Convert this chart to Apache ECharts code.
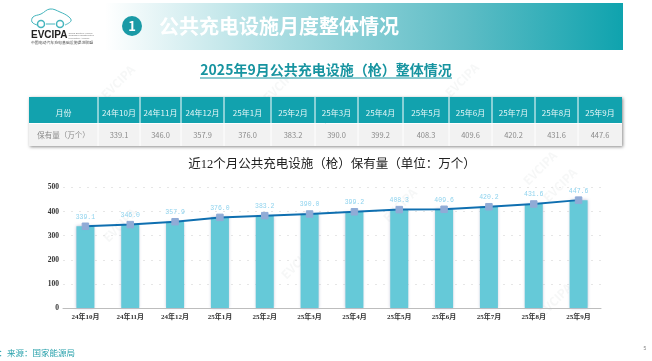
<!DOCTYPE html>
<html>
<head>
<meta charset="utf-8">
<style>
  html, body { margin: 0; padding: 0; background: #fff; }
  #chart { width: 652px; height: 361px; }
</style>
<script src="https://cdn.jsdelivr.net/npm/echarts@6/dist/echarts.min.js"></script>
</head>
<body>
<div id="chart"></div>
<script>
const months = ['24年10月', '24年11月', '24年12月', '25年1月', '25年2月', '25年3月', '25年4月', '25年5月', '25年6月', '25年7月', '25年8月', '25年9月']
const stock = [339.1, 346.0, 357.9, 376.0, 383.2, 390.0, 399.2, 408.3, 409.6, 420.2, 431.6, 447.6]
const yTicks = { min: 0, max: 500, interval: 100 }
const headerLabel = '月份'
const rowLabel = '保有量（万个）'

// table column edges, px
const colEdges = [29, 98, 140, 181, 224, 271, 315, 358, 403, 449, 492, 535, 578, 622]
const watermarks = [[118, 82], [280, 85], [462, 80], [540, 168], [120, 225], [298, 262], [400, 205], [560, 185], [555, 300]]

const sans = '"Noto Sans CJK SC", sans-serif'
const teal = '#12a2ae'

const chart = echarts.init(document.getElementById('chart'))

const graphics = []

function text(x, y, str, font, fill, extra) {
  graphics.push({
    type: 'text', x, y, silent: true,
    style: Object.assign({ text: str, font, fill, align: 'center', verticalAlign: 'middle' }, extra || {})
  })
}

// faint watermarks, underneath everything
watermarks.forEach(([x, y]) => {
  graphics.push({
    type: 'text', x, y, rotation: Math.PI / 4, z: 0, silent: true,
    style: { text: 'EVCIPA', font: 'bold 12px ' + sans, fill: 'rgba(150,165,170,0.09)', align: 'center', verticalAlign: 'middle' }
  })
})

// banner
graphics.push({
  type: 'rect', shape: { x: 105, y: 3, width: 518, height: 47 }, silent: true,
  style: {
    fill: new echarts.graphic.LinearGradient(0, 0, 1, 0, [
      { offset: 0, color: '#ffffff' },
      { offset: 0.35, color: '#a6dbe0' },
      { offset: 0.7, color: '#5cbcc5' },
      { offset: 1, color: '#0fa3ae' }
    ])
  }
})
graphics.push({ type: 'circle', shape: { cx: 132, cy: 26, r: 10 }, style: { fill: '#1a9aa6' }, silent: true })
text(132, 26.5, '1', 'bold 13px ' + sans, '#fff')
text(159, 26, '公共充电设施月度整体情况', 'bold 20px ' + sans, '#fff', { align: 'left' })

// logo
graphics.push({
  type: 'polyline', silent: true,
  shape: { points: [[37, 25], [32, 22], [33, 17], [41, 14], [50, 9], [60, 12], [69, 17], [71, 21], [65, 25]], smooth: 0.4 },
  style: { fill: 'none', stroke: '#45b5bd', lineWidth: 1 }
})
graphics.push({ type: 'circle', shape: { cx: 41, cy: 24, r: 3.5 }, style: { fill: '#fff', stroke: '#45b5bd', lineWidth: 1.5 }, silent: true })
graphics.push({ type: 'circle', shape: { cx: 60, cy: 24, r: 3.5 }, style: { fill: '#fff', stroke: '#45b5bd', lineWidth: 1.5 }, silent: true })
graphics.push({ type: 'line', shape: { x1: 46, y1: 24, x2: 55, y2: 24 }, style: { stroke: '#45b5bd', lineWidth: 1 }, silent: true })
text(31, 35, 'EVCIPA', 'bold 10px "Liberation Sans"', '#222', { align: 'left' })
text(68.5, 33, 'China Electric Vehicle', '2.5px "Liberation Sans"', '#777', { align: 'left' })
text(68.5, 35.5, 'Charging Infrastructure', '2.5px "Liberation Sans"', '#777', { align: 'left' })
text(68.5, 38, 'Promotion Alliance', '2.5px "Liberation Sans"', '#777', { align: 'left' })
text(62, 42.5, '中国电动汽车充电基础设施促进联盟', '3.9px ' + sans, '#555')

// section title
text(326, 70, '2025年9月公共充电设施（枪）整体情况', 'bold 14px ' + sans, '#1794a0')
graphics.push({ type: 'line', shape: { x1: 200, y1: 78, x2: 452, y2: 78 }, style: { stroke: '#1794a0', lineWidth: 1 }, silent: true })

// table
graphics.push({
  type: 'rect', shape: { x: colEdges[0], y: 97, width: colEdges[13] - colEdges[0], height: 49 }, silent: true,
  style: { fill: '#f2f2f2', shadowBlur: 3, shadowColor: 'rgba(0,0,0,0.45)', shadowOffsetX: 1, shadowOffsetY: 1 }
})
graphics.push({
  type: 'rect', shape: { x: colEdges[0], y: 97, width: colEdges[13] - colEdges[0], height: 26.5 }, silent: true,
  style: { fill: teal }
})
const headerCells = [headerLabel].concat(months)
const rowCells = [rowLabel].concat(stock.map(v => v.toFixed(1)))
headerCells.forEach((h, i) => {
  const cx = (colEdges[i] + colEdges[i + 1]) / 2
  text(cx, 113, h, '8px ' + sans, '#e4f6f7')
  text(cx, 135, rowCells[i], '7.5px ' + sans, '#8a8a8a')
  if (i > 0) {
    graphics.push({ type: 'line', shape: { x1: colEdges[i], y1: 97, x2: colEdges[i], y2: 146 }, style: { stroke: '#ffffff', lineWidth: 1 }, silent: true })
  }
})
graphics.push({ type: 'line', shape: { x1: colEdges[0], y1: 123.5, x2: colEdges[13], y2: 123.5 }, style: { stroke: '#ffffff', lineWidth: 1 }, silent: true })

// chart title
text(332, 165, '近12个月公共充电设施（枪）保有量（单位：万个）', '12.5px "Liberation Serif", "Noto Sans CJK SC"', '#222')

// footer
text(-10, 353, '注：来源：国家能源局', '8.5px ' + sans, '#2aa2ac', { align: 'left' })
text(645, 349, '5', '5px "Liberation Sans"', '#888')

const axisFont = '"Liberation Serif", "Noto Sans CJK SC", serif'

const option = {
  animation: false,
  backgroundColor: '#fff',
  grid: { left: 63, right: 51, top: 187.5, bottom: 53 },
  xAxis: {
    type: 'category',
    data: months,
    axisTick: { show: false },
    axisLine: { lineStyle: { color: '#bdbdbd', width: 1 } },
    axisLabel: { color: '#333', fontSize: 7, fontWeight: 'bold', fontFamily: axisFont, margin: 6 }
  },
  yAxis: {
    type: 'value',
    min: yTicks.min,
    max: yTicks.max,
    interval: yTicks.interval,
    axisLine: { show: false },
    axisTick: { show: false },
    axisLabel: { color: '#333', fontSize: 7.5, fontWeight: 'bold', fontFamily: axisFont, margin: 4 },
    splitLine: { lineStyle: { color: '#e6e6e6', type: [2, 6], width: 1 } }
  },
  graphic: { elements: graphics },
  series: [
    {
      name: 'bar',
      type: 'bar',
      data: stock,
      barWidth: 18,
      itemStyle: {
        color: '#65c9d8',
        shadowBlur: 3,
        shadowColor: '#b4b9d0'
      }
    },
    {
      name: 'line',
      type: 'line',
      data: stock,
      symbol: 'rect',
      symbolSize: 6.5,
      itemStyle: { color: '#90abd6', borderColor: '#90abd6' },
      lineStyle: { color: '#0f6fb0', width: 2 },
      label: {
        show: true,
        position: 'top',
        distance: 2,
        color: '#8fd3ee',
        fontSize: 6.5,
        fontFamily: '"Liberation Mono", "DejaVu Sans Mono", monospace',
        formatter: p => p.value.toFixed(1)
      }
    }
  ]
}

chart.setOption(option)
</script>
</body>
</html>
